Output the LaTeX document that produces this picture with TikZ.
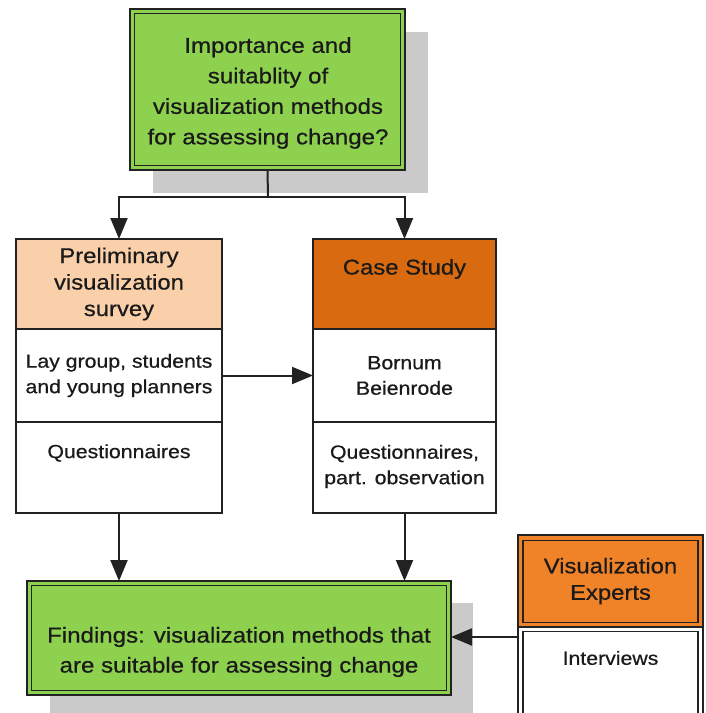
\documentclass[tikz,border=0pt]{standalone}
\usepackage{fontspec}
\setmainfont{Liberation Sans}[FakeStretch=1.12,FakeBold=0.6]
\usetikzlibrary{arrows.meta}
\definecolor{boxgreen}{HTML}{8DD14F}
\definecolor{peach}{HTML}{FAD0AA}
\definecolor{darkorange}{HTML}{D96A10}
\definecolor{brightorange}{HTML}{F08228}
\definecolor{shadowgray}{HTML}{CACACA}
\definecolor{edge}{HTML}{222222}
\definecolor{txt}{HTML}{1A1A1A}
\begin{document}
\begin{tikzpicture}[x=1pt,y=-1pt,
  cell/.style={draw=edge, line width=1.7pt, inner sep=0pt, outer sep=0pt},
  innerline/.style={draw=edge, line width=1.4pt},
  arr/.style={draw=edge, line width=2pt, -{Triangle[length=21pt,width=17pt]}},
  plain/.style={draw=edge, line width=2pt},
  tq/.style={font=\fontsize{21.5}{30.5}\selectfont, text=txt, align=center, inner sep=0pt},
  thead/.style={font=\fontsize{21.3}{26.5}\selectfont, text=txt, align=center, inner sep=0pt},
  tbody/.style={font=\fontsize{19}{25.5}\selectfont, text=txt, align=center, inner sep=0pt},
  tfind/.style={font=\fontsize{21.5}{30}\selectfont, text=txt, align=center, inner sep=0pt}]
\clip (0,0) rectangle (706,713);
\fill[white] (0,0) rectangle (706,713);
% shadows
\fill[shadowgray] (153,32) rectangle (428,193);
\fill[shadowgray] (50,603) rectangle (473,720);
% top question box
\node[cell, fill=boxgreen, minimum width=275pt, minimum height=161pt] (q) at (267.5,89.5) {};
\draw[innerline] ([shift={(4.5,4.5)}]q.north west) rectangle ([shift={(-4.5,-4.5)}]q.south east);
\node[tq] (qt) at (268,93) {Importance and\\suitablity of\\visualization methods\\for assessing change?};
% left column
\node[cell, fill=peach, minimum width=206pt, minimum height=90pt] (pre) at (119,284) {};
\node[cell, fill=white, minimum width=206pt, minimum height=93pt] (lmid) at (119,375.5) {};
\node[cell, fill=white, minimum width=206pt, minimum height=91pt] (lbot) at (119,467.5) {};
\node[thead] (pret) at (119,284) {Preliminary\\visualization\\survey};
\node[tbody] (lmidt) at (119,375.5) {Lay group, students\\and young planners};
\node[tbody] (lbott) at (119,453) {Questionnaires};
% right column
\node[cell, fill=darkorange, minimum width=183pt, minimum height=90pt] (cs) at (404.5,284) {};
\node[cell, fill=white, minimum width=183pt, minimum height=93pt] (rmid) at (404.5,375.5) {};
\node[cell, fill=white, minimum width=183pt, minimum height=91pt] (rbot) at (404.5,467.5) {};
\node[thead] (cst) at (404.5,269) {Case Study};
\node[tbody] (rmidt) at (404.5,375.5) {Bornum\\Beienrode};
\node[tbody] (rbott) at (404.5,466.5) {Questionnaires,\\part. observation};
% findings
\node[cell, fill=boxgreen, minimum width=424pt, minimum height=114pt] (find) at (239,638) {};
\draw[innerline] ([shift={(4.5,4.5)}]find.north west) rectangle ([shift={(-4.5,-4.5)}]find.south east);
\node[tfind] (findt) at (239,652) {Findings: visualization methods that\\are suitable for assessing change};
% experts
\node[cell, fill=brightorange, minimum width=185pt, minimum height=92pt] (exp) at (610.5,581) {};
\draw[innerline] ([shift={(5,5.5)}]exp.north west) rectangle ([shift={(-5,-4.5)}]exp.south east);
\node[cell, fill=white, minimum width=185pt, minimum height=100pt] (expw) at (610.5,677) {};
\draw[innerline] ([shift={(5,4.5)}]expw.north west) rectangle ([shift={(-5,-10)}]expw.south east);
\node[thead] (expt) at (610.5,581) {Visualization\\Experts};
\node[tbody] (expwt) at (610.5,658) {Interviews};
% connectors
\coordinate (split) at (268,197);
\draw[plain] (q.south) -- (split);
\draw[arr] (split) -| (pre.north);
\draw[arr] (split) -| (cs.north);
\draw[arr] (lmid.east) -- (rmid.west);
\draw[arr] (lbot.south) -- (lbot.south |- find.north);
\draw[arr] (rbot.south) -- (rbot.south |- find.north);
\coordinate (ea) at ([yshift=-10pt]expw.north west);
\draw[arr] (ea) -- (ea -| find.east);
\end{tikzpicture}
\end{document}
